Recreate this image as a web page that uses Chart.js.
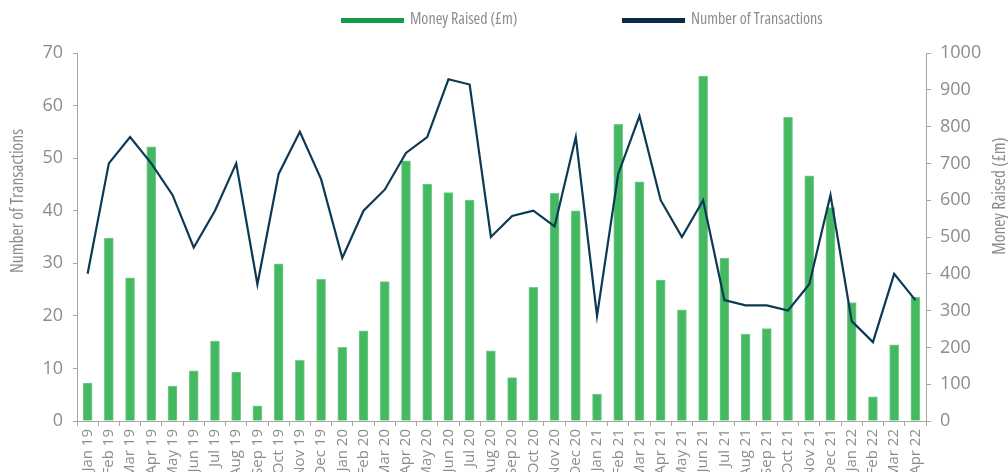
<!DOCTYPE html>
<html>
<head>
<meta charset="utf-8">
<script src="https://cdn.jsdelivr.net/npm/chart.js@4/dist/chart.umd.min.js"></script>
<style>
  html, body { margin: 0; padding: 0; background: #ffffff; }
  #wrap { width: 1008px; height: 472px; position: relative; }
</style>
</head>
<body>
<div id="wrap"><canvas id="c"></canvas></div>
<script>
const months = ["Jan 19","Feb 19","Mar 19","Apr 19","May 19","Jun 19","Jul 19","Aug 19","Sep 19","Oct 19","Nov 19","Dec 19",
  "Jan 20","Feb 20","Mar 20","Apr 20","May 20","Jun 20","Jul 20","Aug 20","Sep 20","Oct 20","Nov 20","Dec 20",
  "Jan 21","Feb 21","Mar 21","Apr 21","May 21","Jun 21","Jul 21","Aug 21","Sep 21","Oct 21","Nov 21","Dec 21",
  "Jan 22","Feb 22","Mar 22","Apr 22"];
const moneyRaised = [103,497,389,745,95,136,217,133,41,427,165,385,
  200,245,379,707,644,621,600,191,118,363,619,571,
  73,806,650,383,302,937,443,236,251,825,666,580,
  322,66,207,337];
const transactions = [28,49,54,49,43,33,40,49,26,47,55,46,
  31,40,44,51,54,65,64,35,39,40,37,54,
  20,47,58,42,35,42,23,22,22,21,26,43,
  19,15,28,23];
const leftTicks = [0,10,20,30,40,50,60,70];
const rightTicks = [0,100,200,300,400,500,600,700,800,900,1000];
const seriesNames = ["Money Raised (£m)", "Number of Transactions"];
const leftTitle = "Number of Transactions";
const rightTitle = "Money Raised (£m)";

const FONT = '"Liberation Sans Narrow", "Open Sans", "Noto Sans", sans-serif';
const STRETCH = 'condensed';
const TEXT = '#8c8c8c';
const AXIS = '#a6a6a6';

const overlay = {
  id: 'overlay',
  afterDraw(chart) {
    const ctx = chart.ctx;
    ctx.save();
    const legendItems = [
      { text: seriesNames[0], color: '#169b4c', x: 341 },
      { text: seriesNames[1], color: '#0a2a47', x: 622 }
    ];
    ctx.font = STRETCH + ' 16px ' + FONT;
    ctx.textBaseline = 'middle';
    ctx.textAlign = 'left';
    legendItems.forEach(it => {
      ctx.fillStyle = it.color;
      ctx.fillRect(it.x, 18, 63, 5);
      ctx.fillStyle = TEXT;
      ctx.fillText(it.text, it.x + 69, 19);
    });
    ctx.restore();
    [[leftTitle, 18, 201], [rightTitle, 1000, 196]].forEach(([t, x, y]) => {
      ctx.save();
      ctx.font = STRETCH + ' 17.5px ' + FONT;
      ctx.fillStyle = TEXT;
      ctx.textAlign = 'center';
      ctx.textBaseline = 'middle';
      ctx.translate(x, y);
      ctx.rotate(-Math.PI / 2);
      ctx.fillText(t, 0, 0);
      ctx.restore();
    });
  }
};

new Chart(document.getElementById('c'), {
  type: 'bar',
  data: {
    labels: months,
    datasets: [
      {
        type: 'line',
        label: seriesNames[1],
        data: transactions,
        yAxisID: 'y',
        borderColor: '#0c3a56',
        backgroundColor: '#0c3a56',
        borderWidth: 2.2,
        pointRadius: 0,
        tension: 0,
        order: 0
      },
      {
        type: 'bar',
        label: seriesNames[0],
        data: moneyRaised,
        yAxisID: 'y1',
        backgroundColor: '#45b862',
        borderColor: '#78cc8c',
        borderWidth: 1,
        barThickness: 9,
        order: 1
      }
    ]
  },
  options: {
    responsive: true,
    maintainAspectRatio: false,
    devicePixelRatio: 1,
    animation: false,
    layout: { padding: { top: 53, left: 0, right: 0, bottom: 0 } },
    plugins: { legend: { display: false }, tooltip: { enabled: false } },
    scales: {
      x: {
        offset: true,
        grid: { display: true, offset: true, drawOnChartArea: false, drawTicks: true, tickLength: 5, color: AXIS },
        border: { display: true, color: AXIS, width: 1 },
        ticks: { color: TEXT, font: { family: FONT, size: 15, style: STRETCH }, autoSkip: false, maxRotation: 90, minRotation: 90, padding: 3 },
        afterFit(s) { s.height = 51; }
      },
      y: {
        position: 'left',
        min: 0, max: 70,
        afterBuildTicks(s) { s.ticks = leftTicks.map(v => ({ value: v })); },
        grid: { drawOnChartArea: false, drawTicks: true, tickLength: 4, color: AXIS },
        border: { display: true, color: AXIS, width: 1 },
        ticks: { color: TEXT, font: { family: FONT, size: 18, style: STRETCH }, padding: 10, callback: v => String(v) },
        afterFit(s) { s.width = 77; }
      },
      y1: {
        position: 'right',
        min: 0, max: 1000,
        afterBuildTicks(s) { s.ticks = rightTicks.map(v => ({ value: v })); },
        grid: { drawOnChartArea: false, drawTicks: true, tickLength: 5, color: AXIS },
        border: { display: true, color: AXIS, width: 1 },
        ticks: { color: TEXT, font: { family: FONT, size: 18, style: STRETCH }, padding: 9, callback: v => String(v) },
        afterFit(s) { s.width = 82; }
      }
    }
  },
  plugins: [overlay]
});
</script>
</body>
</html>
